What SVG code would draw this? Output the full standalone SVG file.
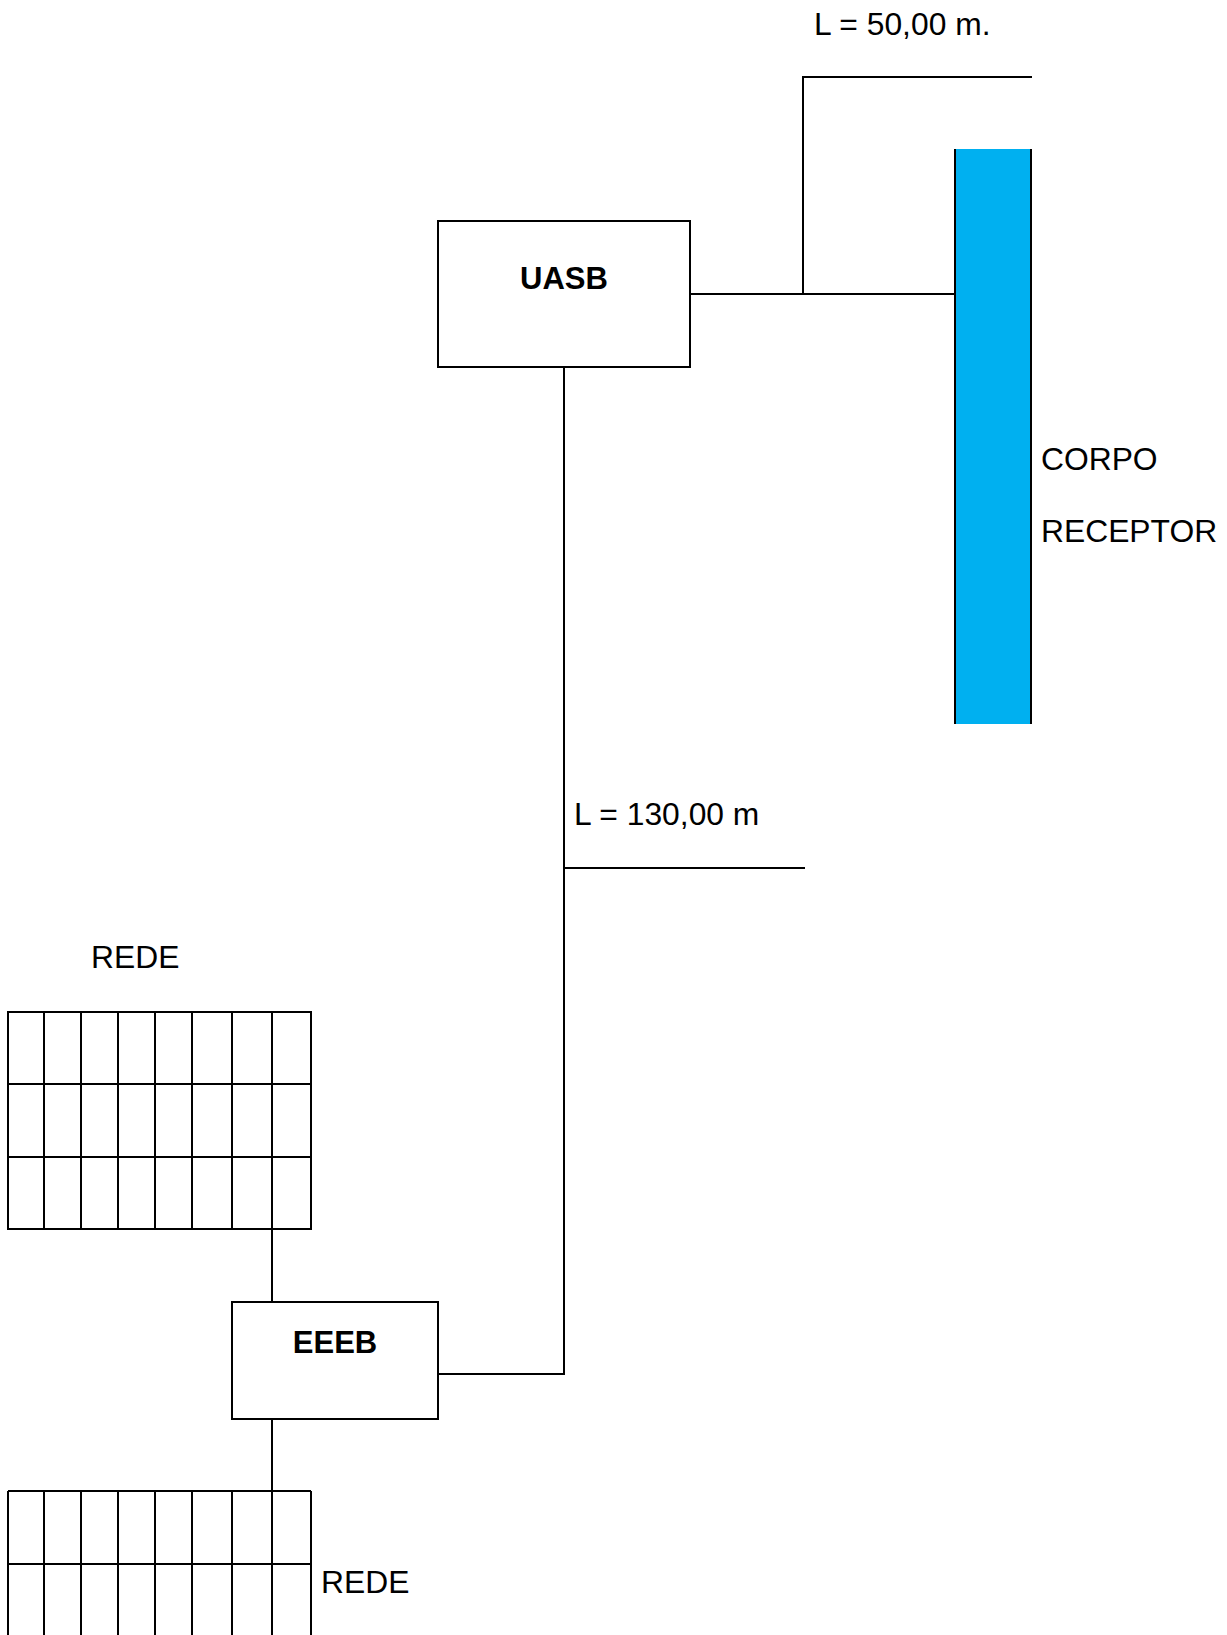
<svg xmlns="http://www.w3.org/2000/svg" width="1227" height="1635" viewBox="0 0 1227 1635">
<style>
.ln{stroke:#000;stroke-width:2;fill:none}
.box{stroke:#000;stroke-width:2;fill:#fff}
.t{font-family:"Liberation Sans",Arial,sans-serif;font-size:31.8px;fill:#000}
.b{font-weight:bold;text-anchor:middle;font-size:31px}
</style>
<rect width="1227" height="1635" fill="#fff"/>
<g id="connectors">
<polyline class="ln" points="690,294 955,294"/>
<polyline class="ln" points="803,294 803,77 1032,77"/>
<polyline class="ln" points="564,367 564,1374 438,1374"/>
<polyline class="ln" points="564,868 805,868"/>
<polyline class="ln" points="272,1229 272,1302"/>
<polyline class="ln" points="272,1419 272,1491"/>
</g>
<g id="corpo-receptor">
<rect x="955" y="149" width="76" height="575" fill="#00B0F0"/>
<line class="ln" x1="955" y1="149" x2="955" y2="724"/>
<line class="ln" x1="1031" y1="149" x2="1031" y2="724"/>
<text class="t" x="1041" y="470">CORPO</text>
<text class="t" x="1041" y="542">RECEPTOR</text>
</g>
<g id="uasb">
<rect class="box" x="438" y="221" width="252" height="146"/>
<text class="t b" x="564" y="289">UASB</text>
</g>
<g id="eeeb">
<rect class="box" x="232" y="1302" width="206" height="117"/>
<text class="t b" x="335" y="1353">EEEB</text>
</g>
<g id="labels">
<text class="t" x="814" y="35">L = 50,00 m.</text>
<text class="t" x="574" y="825">L = 130,00 m</text>
</g>
<g id="rede-top">
<text class="t" x="91" y="968">REDE</text>
<g class="ln">
<rect x="8" y="1012" width="303" height="217"/>
<line x1="8" y1="1084" x2="311" y2="1084"/>
<line x1="8" y1="1157" x2="311" y2="1157"/>
<line x1="44" y1="1012" x2="44" y2="1229"/>
<line x1="81" y1="1012" x2="81" y2="1229"/>
<line x1="118" y1="1012" x2="118" y2="1229"/>
<line x1="155" y1="1012" x2="155" y2="1229"/>
<line x1="192" y1="1012" x2="192" y2="1229"/>
<line x1="232" y1="1012" x2="232" y2="1229"/>
<line x1="272" y1="1012" x2="272" y2="1229"/>
</g>
</g>
<g id="rede-bottom">
<text class="t" x="321" y="1593">REDE</text>
<g class="ln">
<line x1="8" y1="1491" x2="311" y2="1491"/>
<line x1="8" y1="1564" x2="311" y2="1564"/>
<line x1="8" y1="1491" x2="8" y2="1640"/>
<line x1="44" y1="1491" x2="44" y2="1640"/>
<line x1="81" y1="1491" x2="81" y2="1640"/>
<line x1="118" y1="1491" x2="118" y2="1640"/>
<line x1="155" y1="1491" x2="155" y2="1640"/>
<line x1="192" y1="1491" x2="192" y2="1640"/>
<line x1="232" y1="1491" x2="232" y2="1640"/>
<line x1="272" y1="1491" x2="272" y2="1640"/>
<line x1="311" y1="1491" x2="311" y2="1640"/>
</g>
</g>
</svg>
